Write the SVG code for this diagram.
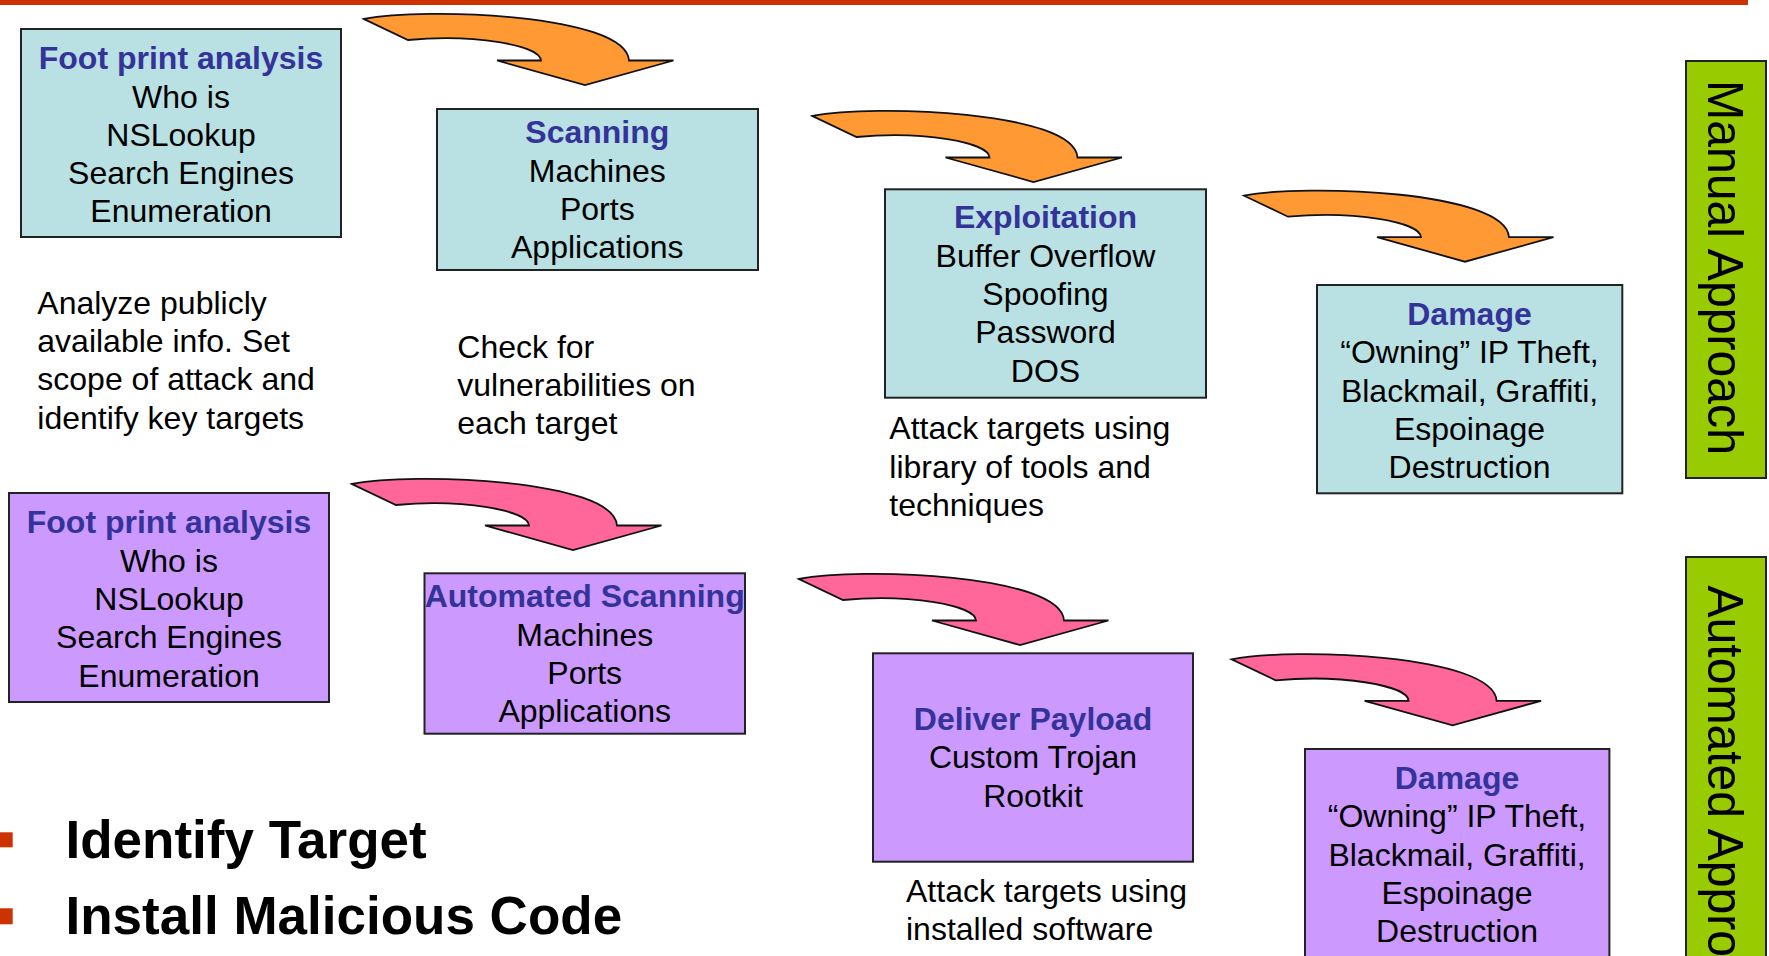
<svg xmlns="http://www.w3.org/2000/svg" xmlns:xlink="http://www.w3.org/1999/xlink" width="1769" height="956" viewBox="0 0 1769 956">
<style>
  text { font-family: "Liberation Sans", Arial, sans-serif; fill: #000; }
  .box { stroke: #222; stroke-width: 2; }
  .man { fill: #B9E0E3; }
  .auto { fill: #CC99FF; }
  .t { font-size: 32px; text-anchor: middle; }
  .h { font-weight: bold; fill: #333399; }
  .d { font-size: 32px; }
  .side { fill: #99CC00; stroke: #222; stroke-width: 2; }
  .vl { font-size: 50px; }
  .bul { font-size: 53px; font-weight: bold; }
  .red { fill: #CC3300; }
  .arr { stroke: #111; stroke-width: 1.8; stroke-linejoin: miter; }
  .orange { fill: #FF9933; }
  .pink { fill: #FF6699; }
</style>
<defs>
  <path id="curvedArrow" d="M0,0 C60,-12 262,-5 265,41.5 L309.5,41.5 L221,66 L133,41.5 L177,41.5 C176,26 110,15 44,21 Z"/>
</defs>
<rect id="topRule" class="red" x="0" y="0" width="1748" height="5"/>

<g id="connectors">
  <use xlink:href="#curvedArrow" class="arr orange" transform="translate(364,19)"/>
  <use xlink:href="#curvedArrow" class="arr orange" transform="translate(812.5,116)"/>
  <use xlink:href="#curvedArrow" class="arr orange" transform="translate(1244,195.7)"/>
  <use xlink:href="#curvedArrow" class="arr pink" transform="translate(352,484)"/>
  <use xlink:href="#curvedArrow" class="arr pink" transform="translate(799,579)"/>
  <use xlink:href="#curvedArrow" class="arr pink" transform="translate(1231.6,659.3)"/>
</g>

<g id="m-footprint">
  <rect class="box man" x="21" y="29" width="320" height="208"/>
  <text class="t h" x="181" y="69.3">Foot print analysis</text>
  <text class="t" x="181" y="107.7">Who is</text>
  <text class="t" x="181" y="146">NSLookup</text>
  <text class="t" x="181" y="184.3">Search Engines</text>
  <text class="t" x="181" y="222">Enumeration</text>
</g>
<g id="m-scanning">
  <rect class="box man" x="437" y="109" width="321" height="161"/>
  <text class="t h" x="597.3" y="143.3">Scanning</text>
  <text class="t" x="597.3" y="181.7">Machines</text>
  <text class="t" x="597.3" y="220">Ports</text>
  <text class="t" x="597.3" y="258.3">Applications</text>
</g>
<g id="m-exploitation">
  <rect class="box man" x="885" y="189.3" width="321" height="208.4"/>
  <text class="t h" x="1045.5" y="228.3">Exploitation</text>
  <text class="t" x="1045.5" y="266.6">Buffer Overflow</text>
  <text class="t" x="1045.5" y="304.9">Spoofing</text>
  <text class="t" x="1045.5" y="343.2">Password</text>
  <text class="t" x="1045.5" y="381.5">DOS</text>
</g>
<g id="m-damage">
  <rect class="box man" x="1317" y="285" width="305.3" height="208.3"/>
  <text class="t h" x="1469.5" y="325">Damage</text>
  <text class="t" x="1469.5" y="363.3">“Owning” IP Theft,</text>
  <text class="t" x="1469.5" y="401.6">Blackmail, Graffiti,</text>
  <text class="t" x="1469.5" y="439.9">Espoinage</text>
  <text class="t" x="1469.5" y="478.2">Destruction</text>
</g>

<g id="a-footprint">
  <rect class="box auto" x="9" y="493" width="320" height="209"/>
  <text class="t h" x="169" y="533.3">Foot print analysis</text>
  <text class="t" x="169" y="571.6">Who is</text>
  <text class="t" x="169" y="609.9">NSLookup</text>
  <text class="t" x="169" y="648.2">Search Engines</text>
  <text class="t" x="169" y="686.5">Enumeration</text>
</g>
<g id="a-scanning">
  <rect class="box auto" x="424.5" y="573.3" width="320.5" height="160.4"/>
  <text class="t h" x="584.7" y="607.3">Automated Scanning</text>
  <text class="t" x="584.7" y="645.6">Machines</text>
  <text class="t" x="584.7" y="683.9">Ports</text>
  <text class="t" x="584.7" y="722.2">Applications</text>
</g>
<g id="a-deliver">
  <rect class="box auto" x="873" y="653.3" width="320" height="208.4"/>
  <text class="t h" x="1033" y="730">Deliver Payload</text>
  <text class="t" x="1033" y="768.3">Custom Trojan</text>
  <text class="t" x="1033" y="806.6">Rootkit</text>
</g>
<g id="a-damage">
  <rect class="box auto" x="1305" y="749" width="304.4" height="230"/>
  <text class="t h" x="1457" y="789">Damage</text>
  <text class="t" x="1457" y="827.3">“Owning” IP Theft,</text>
  <text class="t" x="1457" y="865.6">Blackmail, Graffiti,</text>
  <text class="t" x="1457" y="903.9">Espoinage</text>
  <text class="t" x="1457" y="942.2">Destruction</text>
</g>

<g id="descriptions">
  <text class="d" x="37.3" y="313.8">Analyze publicly</text>
  <text class="d" x="37.3" y="352.1">available info. Set</text>
  <text class="d" x="37.3" y="390.4">scope of attack and</text>
  <text class="d" x="37.3" y="428.7">identify key targets</text>
  <text class="d" x="457.3" y="357.7">Check for</text>
  <text class="d" x="457.3" y="396">vulnerabilities on</text>
  <text class="d" x="457.3" y="434.3">each target</text>
  <text class="d" x="889.3" y="439.3">Attack targets using</text>
  <text class="d" x="889.3" y="477.6">library of tools and</text>
  <text class="d" x="889.3" y="515.9">techniques</text>
  <text class="d" x="906" y="901.7">Attack targets using</text>
  <text class="d" x="906" y="940">installed software</text>
</g>

<g id="manual-approach">
  <rect class="side" x="1686" y="61" width="80" height="417"/>
  <text class="vl" transform="translate(1708,80) rotate(90)" textLength="375" lengthAdjust="spacingAndGlyphs">Manual Approach</text>
</g>
<g id="automated-approach">
  <rect class="side" x="1686" y="557" width="80" height="430"/>
  <text class="vl" transform="translate(1708,585.5) rotate(90)" textLength="449" lengthAdjust="spacingAndGlyphs">Automated Approach</text>
</g>

<g id="bullets">
  <rect class="red" x="-2" y="832.3" width="14.7" height="15"/>
  <text class="bul" x="65.5" y="858">Identify Target</text>
  <rect class="red" x="-2" y="908.3" width="14.7" height="16"/>
  <text class="bul" x="65.5" y="933.5">Install Malicious Code</text>
</g>
</svg>
